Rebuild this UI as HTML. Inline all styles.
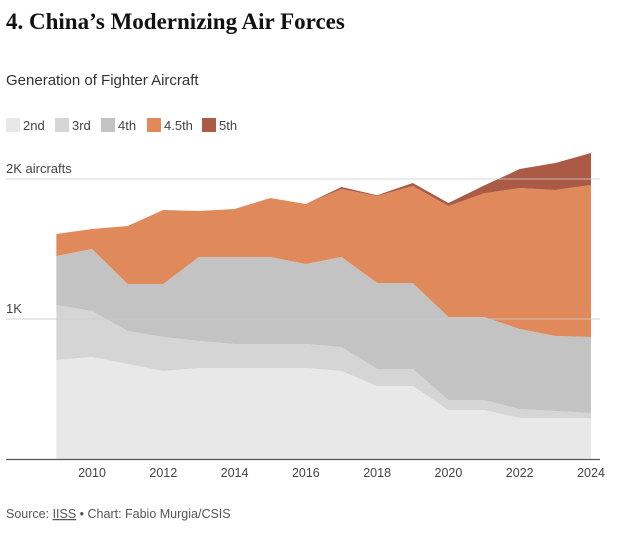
<!DOCTYPE html>
<html><head><meta charset="utf-8"><style>
body{margin:0;background:#fff;width:624px;height:533px;overflow:hidden;font-family:"Liberation Sans",sans-serif;}
</style></head><body>
<svg width="624" height="533" style="position:absolute;left:0;top:0">
<text x="6" y="29" font-family="Liberation Serif" font-weight="bold" font-size="23" fill="#111">4. China’s Modernizing Air Forces</text>
<text x="6" y="85" font-size="15" fill="#333">Generation of Fighter Aircraft</text>
<g id="legend"></g>
<g id="areas"></g>
<g id="grid"></g>
<g id="xaxis"></g>
<text x="6" y="518" font-size="12.5" fill="#555">Source: <tspan text-decoration="underline">IISS</tspan> • Chart: Fabio Murgia/CSIS</text>
</svg>
<script>
const years=[2009,2010,2011,2012,2013,2014,2015,2016,2017,2018,2019,2020,2021,2022,2023,2024];
const gen2=[707,729,679,629,650,650,650,650,629,521,521,350,350,293,293,293];
const gen3=[393,328,235,242,193,171,171,171,171,122,122,71,71,64,50,36];
const gen4=[350,443,336,379,600,622,622,572,643,614,614,593,593,572,536,542];
const gen45=[157,143,414,529,328,343,421,428,486,622,693,793,883,1007,1042,1086];
const gen5=[0,0,0,0,0,0,0,0,14,5,21,22,57,135,193,229];
const seriesNames=["2nd","3rd","4th","4.5th","5th"];
const colors=["#e7e8e7","#d5d5d5","#c3c3c3","#e08a5c","#ab5a45"];
const yTicks=[1000,2000];const yTickLabels=["1K","2K aircrafts"];
const xTicks=[2010,2012,2014,2016,2018,2020,2022,2024];
const NS="http://www.w3.org/2000/svg";
const X=y=>92+(y-2010)*(591-92)/14;
const Y=v=>459-v*0.14;
function mk(t,a,p){const e=document.createElementNS(NS,t);for(const k in a)e.setAttribute(k,a[k]);p.appendChild(e);return e;}
const series=[gen2,gen3,gen4,gen45,gen5];
const areas=document.getElementById('areas');
let base=years.map(()=>0);
series.forEach((s,i)=>{
 const top=base.map((b,j)=>b+s[j]);
 let d=years.map((y,j)=>(j?'L':'M')+X(y)+','+Y(top[j])).join('');
 for(let j=years.length-1;j>=0;j--)d+='L'+X(years[j])+','+Y(base[j]);
 const p=mk('path',{d:d+'Z',fill:colors[i]},areas);
 
 
 base=top;
});
const grid=document.getElementById('grid');
yTicks.forEach((t,i)=>{
 const l=mk('line',{x1:6,x2:600,y1:Y(t),y2:Y(t),stroke:'#ccc','stroke-width':1,'stroke-opacity':0.8},grid);
 
 
 const tx=mk('text',{x:6,y:Y(t)-6,'font-size':13,fill:'#444'},grid);tx.textContent=yTickLabels[i];
 
 
});
const xa=document.getElementById('xaxis');
const bl=mk('line',{x1:6,x2:600,y1:459.5,y2:459.5,stroke:'#555','stroke-width':1.2},xa);


xTicks.forEach(t=>{
 const tx=mk('text',{x:X(t),y:477,'font-size':12.5,fill:'#444','text-anchor':'middle'},xa);tx.textContent=t;
 
 
});
const lg=document.getElementById('legend');
const lx=[6,55,101,147,202];
seriesNames.forEach((n,i)=>{
 const r=mk('rect',{x:lx[i],y:118,width:14,height:14,fill:colors[i]},lg);
 
 
 const t=mk('text',{x:lx[i]+17,y:130,'font-size':13,fill:'#444'},lg);t.textContent=n;
 
 
});
</script>
</body></html>
